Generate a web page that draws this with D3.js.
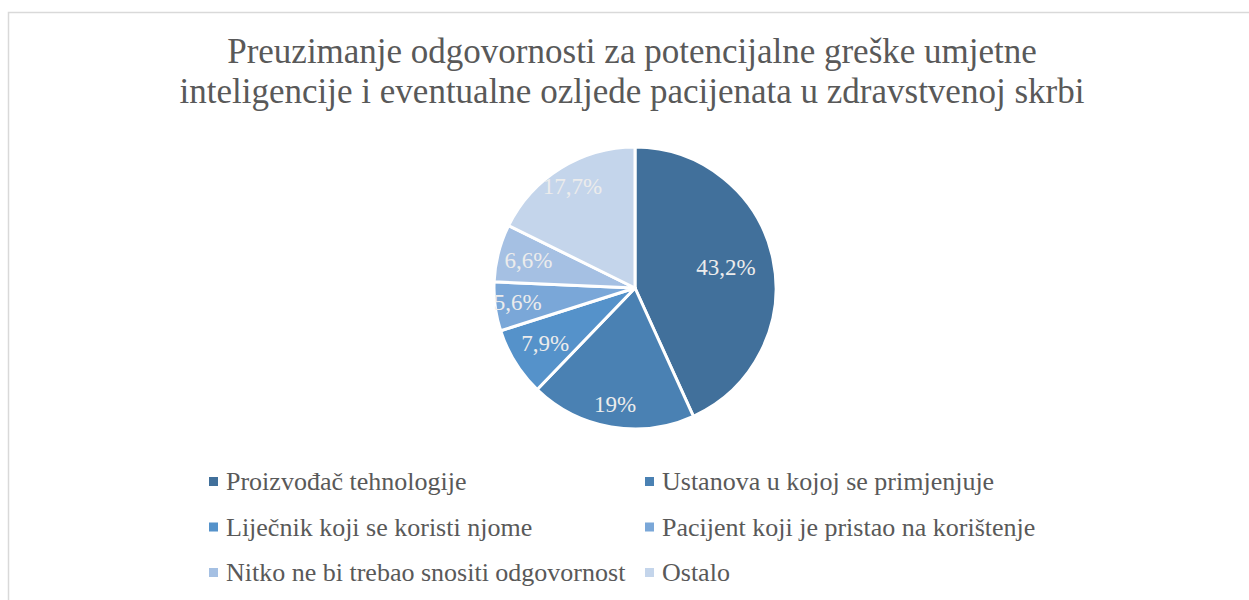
<!DOCTYPE html>
<html>
<head>
<meta charset="utf-8">
<script src="https://cdn.jsdelivr.net/npm/d3@7"></script>
<style>
  body { margin: 0; background: #ffffff; }
  svg { display: block; }
</style>
</head>
<body>
<script>
// chart data
const categories = [
  "Proizvođač tehnologije",
  "Ustanova u kojoj se primjenjuje",
  "Liječnik koji se koristi njome",
  "Pacijent koji je pristao na korištenje",
  "Nitko ne bi trebao snositi odgovornost",
  "Ostalo"
];
const values = [43.2, 19, 7.9, 5.6, 6.6, 17.7];
const valueLabels = ["43,2%", "19%", "7,9%", "5,6%", "6,6%", "17,7%"];
const titleLines = [
  "Preuzimanje odgovornosti za potencijalne greške umjetne",
  "inteligencije i eventualne ozljede pacijenata u zdravstvenoj skrbi"
];

const colors = ["#41709b", "#4a81b3", "#5592ca", "#7aa7d8", "#a5c0e3", "#c4d5eb"];
// label distance from centre, as share of radius (per slice)
const labelPos = [0.66, 0.84, 0.75, 0.84, 0.78, 0.84];

const w = 1249;
const h = 600;
const font = "'Liberation Serif', 'DejaVu Serif', serif";

const svg = d3.select("body").append("svg").attr("width", w).attr("height", h);

// outer chart frame (runs past the right and bottom edge)
svg.append("rect")
  .attr("x", 8.5).attr("y", 12.5)
  .attr("width", 1260).attr("height", 620)
  .attr("fill", "none")
  .attr("stroke", "#d9d9d9")
  .attr("stroke-width", 1.5);

// title
svg.append("g")
  .selectAll("text")
  .data(titleLines)
  .enter()
  .append("text")
  .attr("x", 632)
  .attr("y", (d, i) => 63 + i * 40)
  .attr("text-anchor", "middle")
  .attr("font-family", font)
  .attr("font-size", 35)
  .attr("fill", "#595959")
  .text((d) => d);

// pie
const cx = 635, cy = 288, r = 141;
const pie = d3.pie().sort(null).value((d) => d);
const arcs = pie(values);
const arc = d3.arc().innerRadius(0).outerRadius(r);

const g = svg.append("g").attr("transform", "translate(" + cx + "," + cy + ")");

g.selectAll("path")
  .data(arcs)
  .enter()
  .append("path")
  .attr("d", arc)
  .attr("fill", (d, i) => colors[i])
  .attr("stroke", "#ffffff")
  .attr("stroke-width", 3)
  .attr("stroke-linejoin", "round");

g.selectAll("text")
  .data(arcs)
  .enter()
  .append("text")
  .attr("transform", function (d, i) {
    const a = (d.startAngle + d.endAngle) / 2;
    const rr = r * labelPos[i];
    return "translate(" + Math.sin(a) * rr + "," + -Math.cos(a) * rr + ")";
  })
  .attr("text-anchor", "middle")
  .attr("dy", "0.3em")
  .attr("font-family", font)
  .attr("font-size", 23)
  .attr("fill", "#ececec")
  .text((d, i) => valueLabels[i]);

// legend, two columns
const legend = svg.append("g")
  .selectAll("g")
  .data(categories)
  .enter()
  .append("g")
  .attr("transform", (d, i) => "translate(" + (i % 2 === 0 ? 209 : 645) + "," + (481 + Math.floor(i / 2) * 45.5) + ")");

legend.append("rect")
  .attr("x", 0).attr("y", -4)
  .attr("width", 9).attr("height", 9)
  .attr("fill", (d, i) => colors[i]);

legend.append("text")
  .attr("x", 17)
  .attr("dy", "0.35em")
  .attr("font-family", font)
  .attr("font-size", 26)
  .attr("fill", "#595959")
  .text((d) => d);
</script>
</body>
</html>
